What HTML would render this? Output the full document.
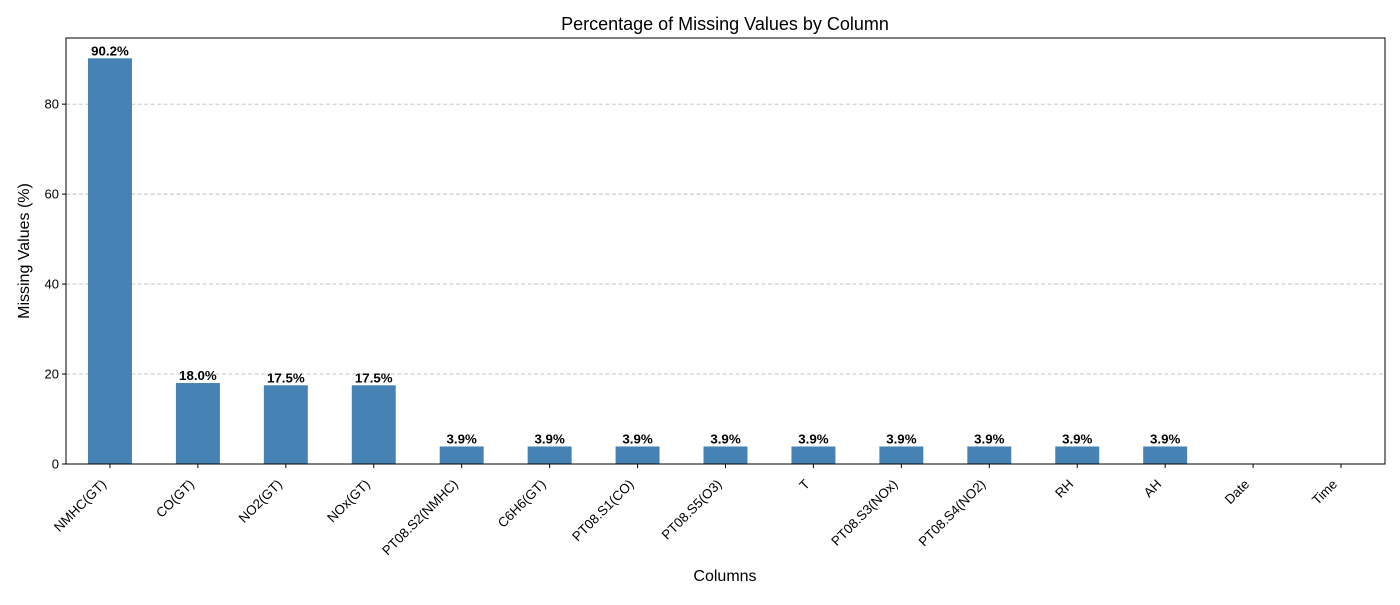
<!DOCTYPE html>
<html><head><meta charset="utf-8"><style>
body{margin:0;background:#fff;}
svg text{font-family:"Liberation Sans","DejaVu Sans",sans-serif;}
</style></head><body>
<svg id="chart" width="1400" height="600" xmlns="http://www.w3.org/2000/svg">
<rect width="1400" height="600" fill="#fff"/>
<text x="725" y="30" text-anchor="middle" font-size="18">Percentage of Missing Values by Column</text>
<text x="725" y="581" text-anchor="middle" font-size="16">Columns</text>
<text transform="translate(29,251) rotate(-90)" text-anchor="middle" font-size="16">Missing Values (%)</text>
<g id="grid"></g><g id="bars"></g><g id="labels"></g><g id="xticks"></g><g id="yticks"></g>
<rect x="66" y="38" width="1319" height="426" fill="none" stroke="#000" stroke-width="1"/>
</svg>
<script>
const categories=["NMHC(GT)","CO(GT)","NO2(GT)","NOx(GT)","PT08.S2(NMHC)","C6H6(GT)","PT08.S1(CO)","PT08.S5(O3)","T","PT08.S3(NOx)","PT08.S4(NO2)","RH","AH","Date","Time"];
const values=[90.2,18.0,17.5,17.5,3.9,3.9,3.9,3.9,3.9,3.9,3.9,3.9,3.9,0,0];
const yTicks=[0,20,40,60,80];
const NS="http://www.w3.org/2000/svg";
const L=66,R=1385,T=38,B=464;
const ymax=Math.max(...values)*1.05;
const n=categories.length;
const xs=i=>L+(i+0.5)*(R-L)/n;
const ys=v=>B-v/ymax*(B-T);
const bw=0.5*(R-L)/n;
function mk(tag,attrs,parent){const e=document.createElementNS(NS,tag);for(const k in attrs)e.setAttribute(k,attrs[k]);document.getElementById(parent).appendChild(e);return e;}
yTicks.forEach(t=>{
  const g=mk('line',{x1:L,x2:R,y1:ys(t),y2:ys(t),stroke:'#bfbfbf','stroke-dasharray':'4,2.5','stroke-width':0.9},'grid');
  
  
  const tk=mk('line',{x1:L-4,x2:L,y1:ys(t),y2:ys(t),stroke:'#000'},'yticks');
  
  
  const tx=mk('text',{x:L-7,y:ys(t)+4.5,'text-anchor':'end','font-size':13},'yticks');
  tx.textContent=t;
  
  
});
categories.forEach((c,i)=>{
  const v=values[i],x=xs(i);
  const r=mk('rect',{x:x-bw/2,y:ys(v),width:bw,height:B-ys(v),fill:'#4682b4'},'bars');
  
  
  if(v>0){
    const lb=mk('text',{x:x,y:ys(v)-3,'text-anchor':'middle','font-size':13.3,'font-weight':'bold'},'labels');
    lb.textContent=v.toFixed(1)+'%';
    
    
  }
  const tk=mk('line',{x1:x,x2:x,y1:B,y2:B+4,stroke:'#000'},'xticks');
  
  
  const tx=mk('text',{transform:`translate(${x-3},${B+21}) rotate(-45)`,'text-anchor':'end','font-size':13.3},'xticks');
  tx.textContent=c;
  
  
});
</script>
</body></html>
